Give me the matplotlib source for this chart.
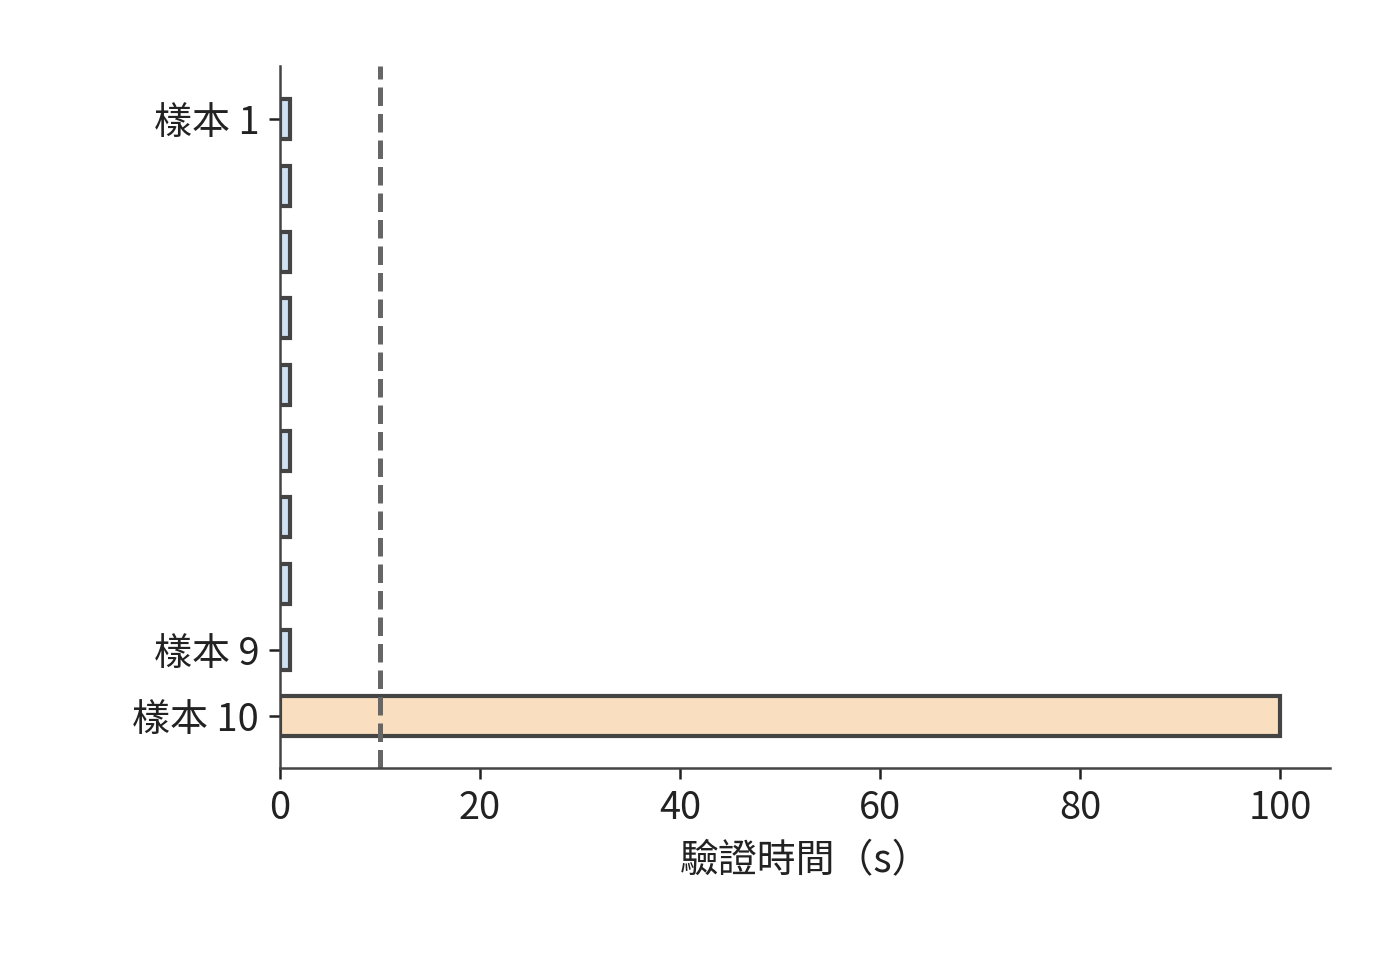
import matplotlib
matplotlib.use("Agg")
import matplotlib.pyplot as plt

plt.rcParams['font.family'] = ['Noto Sans CJK TC', 'DejaVu Sans']

# data
samples = ['樣本 %d' % i for i in range(1, 11)]
times = [1, 1, 1, 1, 1, 1, 1, 1, 1, 100]
colors = ['#cfe2f3'] * 9 + ['#f9dfc0']
threshold = 10
shown_ticks = [0, 8, 9]

fig = plt.figure(figsize=(7, 4.8), dpi=200)
ax = fig.add_axes([0.2, 0.2, 0.75, 0.731])

y = list(range(len(samples)))
ax.barh(y, times, height=0.6, color=colors, edgecolor='#444444', linewidth=1.5)
ax.axvline(threshold, color='#666666', linestyle='--', linewidth=1.8)

ax.set_yticks(shown_ticks)
ax.set_yticklabels([samples[i] for i in shown_ticks])
ax.set_ylim(9.78, -0.8)
ax.set_xlim(0, 105)
ax.set_xticks([0, 20, 40, 60, 80, 100])
ax.set_xlabel('驗證時間（s）', fontsize=14, color='#222222', labelpad=5)

for s in ['top', 'right']:
    ax.spines[s].set_visible(False)
for s in ['left', 'bottom']:
    ax.spines[s].set_color('#444444')
    ax.spines[s].set_linewidth(0.9)
ax.tick_params(axis='both', labelsize=13.7, colors='#222222', length=4, width=0.9)

fig.savefig('out.png', dpi=200, facecolor='white')
